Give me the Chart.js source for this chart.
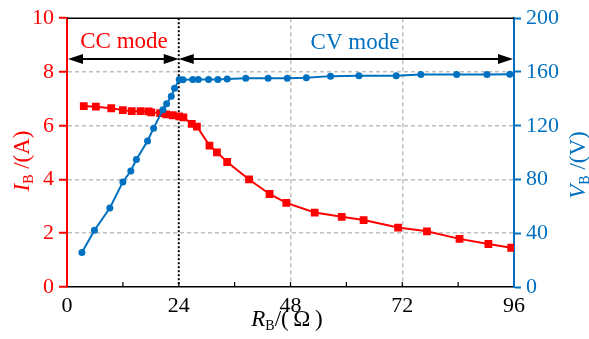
<!doctype html>
<html lang="en">
<head>
<meta charset="utf-8">
<title>I_B and V_B versus R_B</title>
<style>
  * { margin: 0; padding: 0; }
  body { background: #fff; }
  .chartBox { width: 589px; height: 339px; }
</style>
</head>
<body>
<div class="chartBox"><canvas id="myChart"></canvas></div>
<script src="https://cdn.jsdelivr.net/npm/chart.js/dist/chart.umd.min.js"></script>
<script>
// data
const resistI = [3.6, 6.2, 9.5, 12.0, 13.9, 15.8, 17.5, 18.1, 20.0, 21.3, 22.7, 24.1, 25.0, 26.8, 27.9, 30.6, 32.2, 34.4, 39.1, 43.5, 47.1, 53.2, 59.0, 63.7, 71.1, 77.3, 84.3, 90.5, 95.4];
const currentA = [6.73, 6.71, 6.65, 6.58, 6.54, 6.54, 6.53, 6.50, 6.47, 6.42, 6.39, 6.35, 6.31, 6.07, 5.97, 5.26, 5.01, 4.65, 4.00, 3.46, 3.13, 2.77, 2.61, 2.49, 2.21, 2.07, 1.79, 1.60, 1.46];
const resistV = [3.2, 5.9, 9.2, 12.0, 13.7, 14.9, 17.3, 18.6, 20.6, 21.4, 22.4, 23.1, 24.1, 24.9, 27.0, 28.2, 30.4, 32.4, 34.4, 38.4, 43.2, 47.3, 51.4, 56.6, 62.7, 70.7, 76.0, 83.7, 90.2, 95.1];
const voltageV = [25.7, 42.2, 58.8, 78.2, 86.3, 94.9, 108.6, 118.2, 131.9, 136.3, 141.9, 147.8, 154.4, 154.2, 154.4, 154.4, 154.4, 154.4, 154.7, 155.4, 155.4, 155.4, 155.7, 156.9, 157.1, 157.1, 158.1, 158.1, 158.1, 158.3];
const xTicks = [0, 24, 48, 72, 96];
const modeSwitch = 24;

const RED = '#ff0000';
const BLUE = '#0070c0';
const GRID = '#bfbfbf';
const FONT = 'Liberation Serif';

function drawLabel(ctx, parts, x, y, angle, color) {
  ctx.save();
  ctx.translate(x, y);
  ctx.rotate(angle);
  ctx.fillStyle = color;
  ctx.textBaseline = 'alphabetic';
  ctx.textAlign = 'left';
  let total = 0;
  parts.forEach(p => { ctx.font = p.font; p.w = ctx.measureText(p.text).width; total += p.w; });
  let cx = -total / 2;
  parts.forEach(p => { ctx.font = p.font; ctx.fillText(p.text, cx, p.dy || 0); cx += p.w; });
  ctx.restore();
}

function arrow(ctx, x1, x2, y) {
  const len = 15, half = 5;
  ctx.beginPath();
  ctx.moveTo(x1 + len - 2, y);
  ctx.lineTo(x2 - len + 2, y);
  ctx.stroke();
  ctx.beginPath();
  ctx.moveTo(x1, y); ctx.lineTo(x1 + len, y - half); ctx.lineTo(x1 + len, y + half); ctx.closePath();
  ctx.fill();
  ctx.beginPath();
  ctx.moveTo(x2, y); ctx.lineTo(x2 - len, y - half); ctx.lineTo(x2 - len, y + half); ctx.closePath();
  ctx.fill();
}

const extras = {
  id: 'extras',
  beforeDatasetsDraw(chart) {
    const ctx = chart.ctx, a = chart.chartArea, x = chart.scales.x;
    const px = x.getPixelForValue(modeSwitch);
    ctx.save();
    ctx.strokeStyle = '#000';
    ctx.lineWidth = 2;
    ctx.setLineDash([2, 2]);
    ctx.beginPath();
    ctx.moveTo(px, a.top);
    ctx.lineTo(px, a.bottom);
    ctx.stroke();
    ctx.restore();
  },
  afterDraw(chart) {
    const ctx = chart.ctx, a = chart.chartArea, x = chart.scales.x;
    ctx.save();
    // top frame line
    ctx.strokeStyle = '#000';
    ctx.lineWidth = 1.5;
    ctx.beginPath();
    ctx.moveTo(a.left, a.top);
    ctx.lineTo(a.right, a.top);
    ctx.stroke();
    // inward ticks on the bottom axis
    ctx.lineWidth = 1.2;
    for (let v = 12; v < 96; v += 12) {
      const px = x.getPixelForValue(v);
      ctx.beginPath();
      ctx.moveTo(px, a.bottom);
      ctx.lineTo(px, a.bottom - 5);
      ctx.stroke();
    }
    // mode arrows
    const y = 59;
    const p0 = x.getPixelForValue(0), p24 = x.getPixelForValue(modeSwitch), p96 = x.getPixelForValue(96);
    ctx.fillStyle = '#000';
    ctx.lineWidth = 2;
    arrow(ctx, p0 + 1, p24, y);
    arrow(ctx, p24, p96 - 1, y);
    ctx.font = '23px ' + FONT;
    ctx.textAlign = 'center';
    ctx.textBaseline = 'alphabetic';
    ctx.fillStyle = RED;
    ctx.fillText('CC mode', 124, 48);
    ctx.fillStyle = BLUE;
    ctx.fillText('CV mode', 355, 49);
    ctx.restore();

    // axis titles with subscripts
    const big = '23px ' + FONT, bigI = 'italic 23px ' + FONT, sub = '14px ' + FONT;
    drawLabel(ctx, [
      { text: 'R', font: bigI },
      { text: 'B', font: sub, dy: 4 },
      { text: '/(\u2009\u03a9\u2009)', font: big }
    ], 287, 326, 0, '#000');
    drawLabel(ctx, [
      { text: 'I', font: bigI },
      { text: 'B', font: sub, dy: 4 },
      { text: ' /(A)', font: big }
    ], 29, 161, -Math.PI / 2, RED);
    drawLabel(ctx, [
      { text: 'V', font: bigI },
      { text: 'B', font: sub, dy: 4 },
      { text: ' /(V)', font: big }
    ], 585, 165, -Math.PI / 2, BLUE);
  }
};

const data = {
  datasets: [{
    label: 'I_B',
    data: resistI.map((r, i) => ({ x: r, y: currentA[i] })),
    yAxisID: 'y',
    borderColor: RED,
    backgroundColor: RED,
    borderWidth: 2,
    pointStyle: 'rect',
    pointRadius: 5.5,
    pointBorderWidth: 0,
    order: 2
  }, {
    label: 'V_B',
    data: resistV.map((r, i) => ({ x: r, y: voltageV[i] })),
    yAxisID: 'y1',
    borderColor: BLUE,
    backgroundColor: BLUE,
    borderWidth: 2,
    pointStyle: 'circle',
    pointRadius: 3.5,
    pointBorderWidth: 0,
    order: 1
  }]
};

const config = {
  type: 'line',
  data,
  options: {
    responsive: true,
    maintainAspectRatio: false,
    animation: false,
    layout: { padding: { top: 15, left: 0, right: 0, bottom: 0 } },
    plugins: {
      legend: { display: false },
      tooltip: { enabled: false }
    },
    scales: {
      x: {
        type: 'linear',
        min: 0,
        max: 96,
        afterFit: s => { s.height = 52; },
        afterBuildTicks: s => { s.ticks = xTicks.map(v => ({ value: v })); },
        ticks: { color: '#000', font: { family: FONT, size: 22 }, padding: 6, maxRotation: 0 },
        grid: {
          drawTicks: false,
          lineWidth: 1.5,
          color: c => (c.tick && c.tick.value > 24 && c.tick.value < 96) ? GRID : 'rgba(0,0,0,0)'
        },
        border: { color: '#000', width: 1.5, dash: [4, 3] }
      },
      y: {
        position: 'left',
        min: 0,
        max: 10,
        afterFit: s => { s.width = 67; },
        ticks: { stepSize: 2, color: RED, font: { family: FONT, size: 22 }, padding: 5 },
        grid: {
          lineWidth: 1.5,
          tickLength: 8,
          tickColor: RED,
          tickWidth: 2,
          color: c => (c.tick && c.tick.value > 0 && c.tick.value < 10) ? GRID : 'rgba(0,0,0,0)'
        },
        border: { color: RED, width: 2, dash: [4, 3] }
      },
      y1: {
        position: 'right',
        min: 0,
        max: 200,
        afterFit: s => { s.width = 75; },
        ticks: { stepSize: 40, color: BLUE, font: { family: FONT, size: 22 }, padding: 5 },
        grid: { drawOnChartArea: false, tickLength: 7, tickColor: BLUE, tickWidth: 2 },
        border: { color: BLUE, width: 2 }
      }
    }
  },
  plugins: [extras]
};

const myChart = new Chart(document.getElementById('myChart'), config);
</script>
</body>
</html>
